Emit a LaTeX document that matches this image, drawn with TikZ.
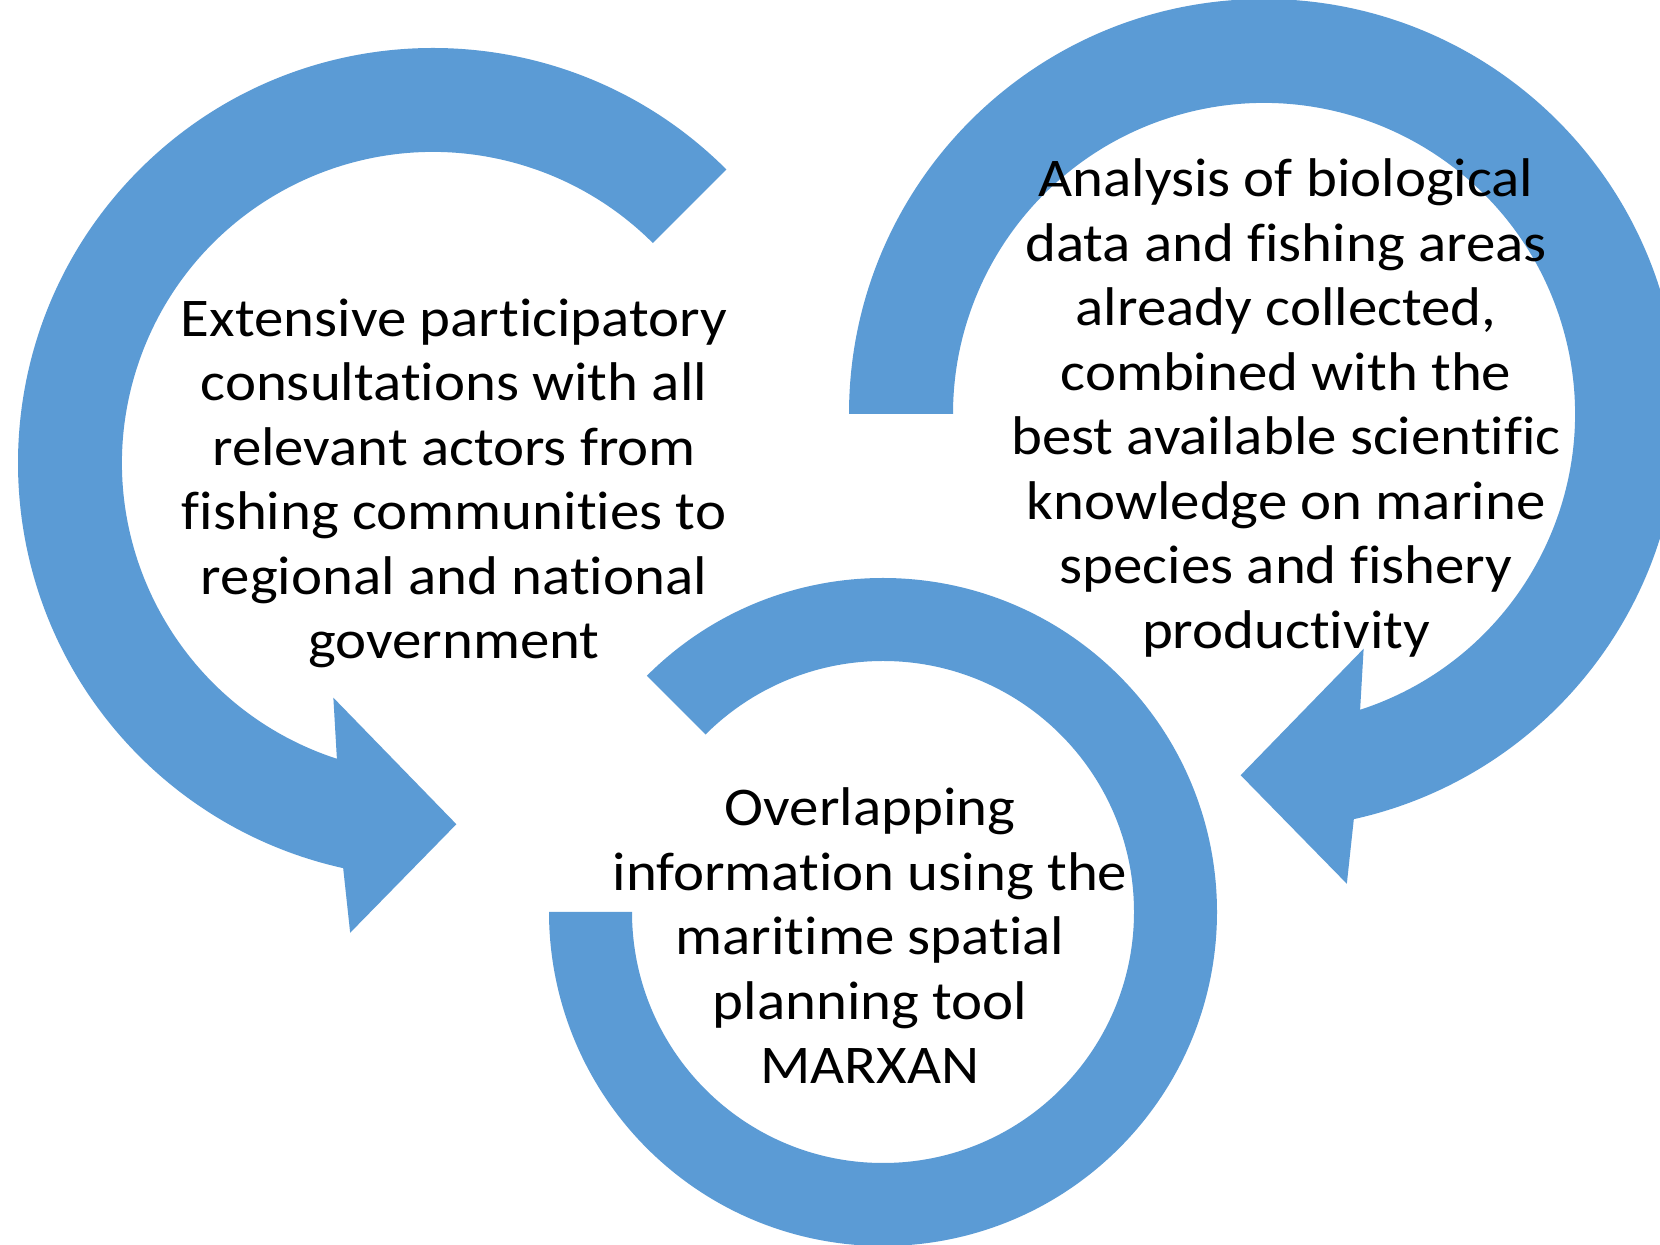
\documentclass[tikz,border=0pt]{standalone}
\usepackage{fontspec}
\setmainfont{Carlito}
\newfontfamily\widecal[FakeStretch=1.08,Ligatures=NoCommon]{Carlito}
\definecolor{arrowblue}{HTML}{5B9BD5}
\begin{document}
\begin{tikzpicture}[x=1pt,y=1pt,
  ringfill/.style={fill=arrowblue},
  txt/.style={align=center, inner sep=0pt, text=black, font=\widecal\fontsize{54.5}{64.5}\selectfont, anchor=base}]
\useasboundingbox (0,0) rectangle (1660,1245);
\clip (0,0) rectangle (1660,1245);
\fill[white] (0,0) rectangle (1660,1245);
% left arrow
\fill[ringfill, shift={(433,782)}] (45:415) arc[start angle=45, end angle=257.5, radius=415]
  -- (260:477) -- (273.7:362) -- (247:255) -- (252:311)
  arc[start angle=252, end angle=45, radius=311] -- cycle;
% right arrow
\fill[ringfill, shift={(1264,831)}] (180:415) arc[start angle=180, end angle=-77.5, radius=415]
  -- (-80:477) -- (-93.7:362) -- (-67:255) -- (-72:311)
  arc[start angle=-72, end angle=180, radius=311] -- cycle;
% bottom ring
\fill[ringfill, shift={(883,333)}] (135:334) arc[start angle=135, end angle=-180, radius=334]
  -- (-180:251) arc[start angle=-180, end angle=135, radius=251] -- cycle;
\node[txt] (tA) at (454,586) {Extensive participatory\\consultations with all\\relevant actors from\\fishing communities to\\regional and national\\government};
\node[txt] (tB) at (1286,596.5) {Analysis of biological\\data and fishing areas\\already collected,\\combined with the\\best available scientific\\knowledge on marine\\species and fishery\\productivity};
\node[txt] (tC) at (870,161) {Overlapping\\information using the\\maritime spatial\\planning tool\\MARXAN};
\end{tikzpicture}
\end{document}
